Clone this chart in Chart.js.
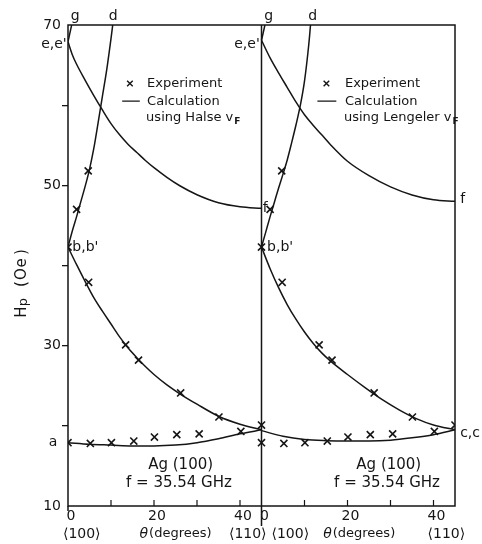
<!DOCTYPE html>
<html>
<head>
<meta charset="utf-8">
<script src="https://cdn.jsdelivr.net/npm/chart.js@4.4.0/dist/chart.umd.min.js"></script>
<style>
  html, body { margin: 0; padding: 0; background: #fff; }
  #wrap { width: 482px; height: 544px; }
</style>
</head>
<body>
<div id="wrap"><canvas id="hpChart" width="482" height="544"></canvas></div>
<script>
// the right panel (Lengeler) sits on the same x axis, shifted by 45 degrees
const PANEL_OFFSET = 45;

// **Experiment** - same measured points in both panels (theta deg, Hp Oe)
const expTheta = [0, 2.0, 4.7, 4.8, 13.4, 16.4, 26.2, 35.1, 45, 0, 5.2, 10.1, 15.3, 20.1, 25.3, 30.5, 40.2];
const expHp    = [42.3, 47.0, 51.8, 37.9, 30.1, 28.2, 24.1, 21.1, 20.1, 17.9, 17.8, 17.9, 18.1, 18.6, 18.9, 19.0, 19.3];

// **Calculation using Halse vF** (left panel)
const halseThetaG = [0, 0.85];
const halseHpG    = [67.9, 70];
const halseThetaD = [0, 1, 2, 3, 4, 5, 6, 7, 8, 9, 10, 10.4];
const halseHpD    = [42.3, 44.3, 46.1, 48.0, 49.9, 52.0, 54.6, 57.8, 61.1, 64.4, 68.3, 70];
const halseThetaE = [0, 1, 2, 4, 6, 8, 10, 12, 14, 16, 18, 20, 23, 26, 30, 35, 40, 45];
const halseHpE    = [67.9, 66.3, 65.1, 63.1, 61.2, 59.4, 57.7, 56.3, 55.1, 54.1, 53.1, 52.2, 51.0, 49.95, 48.83, 47.83, 47.33, 47.13];
const halseThetaB = [0, 2, 4, 6, 8, 10, 12, 14, 16, 18, 20, 23, 26, 30, 35, 40, 45];
const halseHpB    = [42.3, 40.1, 38.0, 36.0, 34.3, 32.7, 31.1, 29.7, 28.5, 27.4, 26.4, 25.1, 24.0, 22.7, 21.2, 20.2, 19.5];
const halseThetaA = [0, 5, 10, 15, 20, 25, 30, 35, 40, 45];
const halseHpA    = [17.9, 17.7, 17.6, 17.5, 17.5, 17.6, 17.9, 18.4, 19.0, 19.5];

// **Calculation using Lengeler vF** (right panel)
const lengThetaG = [0, 0.8];
const lengHpG    = [68.1, 70];
const lengThetaD = [0, 1, 2, 3, 4, 5, 6, 7, 8, 9, 10, 11, 11.4];
const lengHpD    = [42.3, 44.2, 46.1, 47.9, 49.7, 51.4, 53.2, 55.3, 57.5, 59.9, 63.0, 67.6, 70];
const lengThetaE = [0, 2, 4, 6, 8, 10, 12, 14, 16, 20, 25, 30, 35, 40, 45];
const lengHpE    = [68.1, 65.9, 64.0, 62.2, 60.4, 58.8, 57.5, 56.3, 55.1, 53.0, 51.2, 49.8, 48.8, 48.2, 48.0];
const lengThetaB = [0, 2, 4, 6, 8, 10, 12, 14, 16, 20, 24, 28, 32, 36, 40, 45];
const lengHpB    = [42.3, 39.6, 37.2, 35.1, 33.3, 31.7, 30.3, 29.1, 28.1, 26.4, 24.8, 23.3, 22.0, 20.9, 20.1, 19.5];
const lengThetaA = [0, 5, 10, 15, 20, 25, 30, 35, 40, 45];
const lengHpA    = [19.4, 18.7, 18.3, 18.15, 18.1, 18.1, 18.2, 18.5, 18.9, 19.5];

// tick labels
const yLabelValues = [10, 30, 50, 70];
const xTickValues = [0, 20, 40];
const xMinorTicks = [10, 20, 30, 40];

const INK = '#151515';
const FONT = '"DejaVu Sans", sans-serif';

// Build a calc curve dataset for one panel
function curve(thetas, hps, panel) {
    return {
        data: thetas.map((t, i) => ({ x: t + panel * PANEL_OFFSET, y: hps[i] })),
        showLine: true,
        pointRadius: 0,
        borderColor: INK,
        borderWidth: 1.5,
        cubicInterpolationMode: 'monotone'
    };
}

function experiment(panel) {
    return {
        data: expTheta.map((t, i) => ({ x: t + panel * PANEL_OFFSET, y: expHp[i] })),
        showLine: false,
        pointStyle: 'crossRot',
        pointRadius: 5,
        borderColor: INK,
        borderWidth: 1.6
    };
}

// labels placed on the plot (panel, theta, Hp)
const markLabels = [
    { text: 'g', panel: 0, theta: 1.7, hp: 71.1, align: 'center' },
    { text: 'd', panel: 0, theta: 10.5, hp: 71.1, align: 'center' },
    { text: 'g', panel: 1, theta: 1.7, hp: 71.1, align: 'center' },
    { text: 'd', panel: 1, theta: 11.9, hp: 71.1, align: 'center' },
    { text: "e,e'", panel: 0, theta: -0.3, hp: 67.6, align: 'right' },
    { text: "e,e'", panel: 1, theta: -0.4, hp: 67.6, align: 'right' },
    { text: "b,b'", panel: 0, theta: 1.0, hp: 42.3, align: 'left' },
    { text: "b,b'", panel: 1, theta: 1.3, hp: 42.3, align: 'left' },
    { text: 'f', panel: 1, theta: 0.3, hp: 47.1, align: 'left' },
    { text: 'f', panel: 1, theta: 46.2, hp: 48.2, align: 'left' },
    { text: 'c,c', panel: 1, theta: 46.2, hp: 19.1, align: 'left' },
    { text: 'a', panel: 0, theta: -3.5, hp: 17.9, align: 'center' }
];

const paperMarks = {
    id: 'paperMarks',
    afterDraw(chart) {
        const { ctx, chartArea: a, scales: { x, y } } = chart;
        const px = (panel, theta) => x.getPixelForValue(theta + panel * PANEL_OFFSET);

        const text = (str, tx, ty, size, align, style) => {
            ctx.font = `${style || ''} ${size}px ${FONT}`;
            ctx.textAlign = align || 'center';
            ctx.textBaseline = 'middle';
            ctx.fillText(str, tx, ty);
        };

        ctx.save();
        ctx.strokeStyle = INK;
        ctx.fillStyle = INK;
        ctx.lineWidth = 1.5;

        // frame and panel separator
        ctx.strokeRect(a.left, a.top, a.right - a.left, a.bottom - a.top);
        const sep = px(1, 0);
        ctx.beginPath();
        ctx.moveTo(sep, a.top);
        ctx.lineTo(sep, a.bottom + 20);
        ctx.moveTo(a.left, a.bottom);
        ctx.lineTo(a.left, a.bottom + 5);
        ctx.stroke();

        // inward ticks on the bottom axis
        ctx.lineWidth = 1.2;
        ctx.beginPath();
        [0, 1].forEach(panel => {
            xMinorTicks.forEach(t => {
                const tx = px(panel, t);
                ctx.moveTo(tx, a.bottom);
                ctx.lineTo(tx, a.bottom - 6);
            });
        });
        ctx.stroke();

        // point labels
        markLabels.forEach(l => {
            text(l.text, px(l.panel, l.theta), y.getPixelForValue(l.hp), 14, l.align);
        });

        // sample / frequency
        [0, 1].forEach(panel => {
            const cx = panel === 0 ? 26.2 : 29.6;
            text('Ag (100)', px(panel, cx), y.getPixelForValue(15.1), 15);
            text('f = 35.54 GHz', px(panel, cx - 0.4), y.getPixelForValue(12.9), 15);
        });

        // legends
        [['Halse', 0], ['Lengeler', 1]].forEach(([name, panel]) => {
            const tx = px(panel, panel === 0 ? 18.4 : 19.4);
            const yExp = y.getPixelForValue(62.7);
            const yCalc = y.getPixelForValue(60.5);
            const yUse = y.getPixelForValue(58.5);
            const mx = px(panel, panel === 0 ? 14.4 : 15.1);
            ctx.lineWidth = 1.4;
            ctx.beginPath();
            ctx.moveTo(mx - 2.8, yExp - 2.8); ctx.lineTo(mx + 2.8, yExp + 2.8);
            ctx.moveTo(mx - 2.8, yExp + 2.8); ctx.lineTo(mx + 2.8, yExp - 2.8);
            ctx.moveTo(px(panel, panel === 0 ? 12.6 : 13.0), yCalc);
            ctx.lineTo(px(panel, panel === 0 ? 16.7 : 17.4), yCalc);
            ctx.stroke();
            text('Experiment', tx, yExp, 13, 'left');
            text('Calculation', tx, yCalc, 13, 'left');
            const use = `using ${name} v`;
            text(use, tx - 1, yUse, 13, 'left');
            const w = ctx.measureText(use).width;
            ctx.font = `bold 9px ${FONT}`;
            ctx.textAlign = 'left';
            ctx.fillText('F', tx + w, yUse + 4);
        });

        // second row below the axis
        const row = a.bottom + 28;
        [0, 1].forEach(panel => {
            const o = panel === 0 ? [3.2, 24.9, 41.8] : [6.7, 22.6, 43.0];
            text('\u27E8100\u27E9', px(panel, o[0]), row, 14);
            ctx.font = `13px ${FONT}`;
            const deg = '(degrees)';
            const w1 = ctx.measureText(deg).width;
            ctx.font = `italic 14px ${FONT}`;
            const w0 = ctx.measureText('\u03B8').width;
            const start = px(panel, o[1]) - (w0 + w1) / 2;
            text('\u03B8', start, row, 14, 'left', 'italic');
            text(deg, start + w0 + 1, row, 13, 'left');
            text('\u27E8110\u27E9', px(panel, o[2]), row, 14);
        });

        // rotated y title  Hp (Oe)
        const titleChars = [['H', 312, 15, 0], ['p', 302, 13, 2], ['(', 284, 15, 0], ['O', 274, 15, 0], ['e', 263, 15, 0], [')', 252, 15, 0]];
        titleChars.forEach(([ch, cy, size, dx]) => {
            ctx.save();
            ctx.translate(22 + dx, cy);
            ctx.rotate(-Math.PI / 2);
            text(ch, 0, 0, size);
            ctx.restore();
        });

        ctx.restore();
    }
};

const datasets = [
    curve(halseThetaG, halseHpG, 0),
    curve(halseThetaD, halseHpD, 0),
    curve(halseThetaE, halseHpE, 0),
    curve(halseThetaB, halseHpB, 0),
    curve(halseThetaA, halseHpA, 0),
    curve(lengThetaG, lengHpG, 1),
    curve(lengThetaD, lengHpD, 1),
    curve(lengThetaE, lengHpE, 1),
    curve(lengThetaB, lengHpB, 1),
    curve(lengThetaA, lengHpA, 1),
    experiment(0),
    experiment(1)
];

new Chart(document.getElementById('hpChart').getContext('2d'), {
    type: 'scatter',
    data: { datasets },
    plugins: [paperMarks],
    options: {
        responsive: false,
        animation: false,
        devicePixelRatio: 1,
        layout: { padding: { top: 25, right: 27, bottom: 0, left: 0 } },
        plugins: { legend: { display: false }, tooltip: { enabled: false } },
        scales: {
            x: {
                type: 'linear',
                min: 0,
                max: 2 * PANEL_OFFSET,
                afterBuildTicks: s => {
                    s.ticks = [];
                    [0, 1].forEach(p => xTickValues.forEach(v => s.ticks.push({ value: v + p * PANEL_OFFSET })));
                },
                afterFit: s => { s.height = 38; },
                ticks: {
                    autoSkip: false,
                    maxRotation: 0,
                    labelOffset: 3,
                    padding: 2,
                    color: INK,
                    font: { family: FONT, size: 14 },
                    callback: v => String(v >= PANEL_OFFSET ? v - PANEL_OFFSET : v)
                },
                grid: { display: false, drawTicks: false },
                border: { display: false }
            },
            y: {
                min: 10,
                max: 70,
                afterFit: s => { s.width = 68; },
                ticks: {
                    stepSize: 10,
                    padding: 1,
                    color: INK,
                    font: { family: FONT, size: 14 },
                    callback: v => yLabelValues.includes(v) ? String(v) : ''
                },
                grid: {
                    drawOnChartArea: false,
                    tickLength: 6,
                    lineWidth: 1.3,
                    color: c => (c.tick && (c.tick.value === 10 || c.tick.value === 70)) ? 'rgba(0,0,0,0)' : INK
                },
                border: { display: false }
            }
        }
    }
});
</script>
</body>
</html>
